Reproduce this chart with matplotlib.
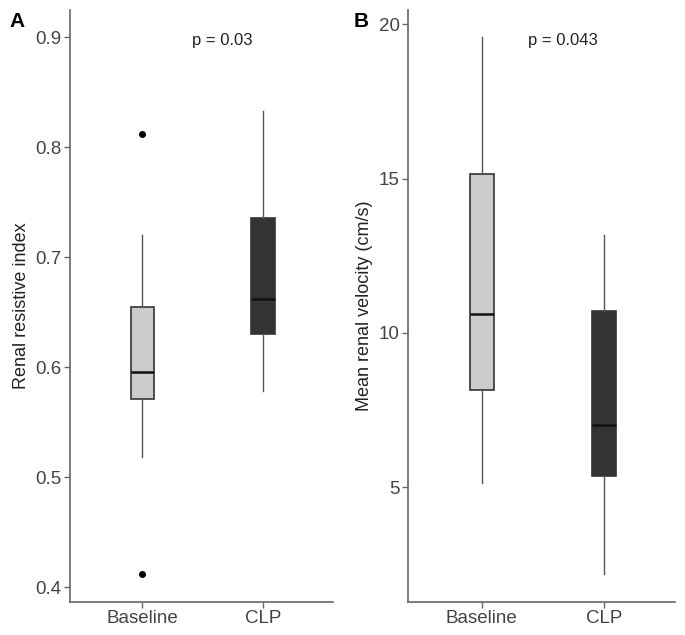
import matplotlib.pyplot as plt

plt.rcParams['font.family'] = ['Liberation Sans', 'DejaVu Sans']

groups = ['Baseline', 'CLP']
fills = ['#cccccc', '#333333']

# panel A: renal resistive index (whislo, q1, med, q3, whishi)
ri_lo = [0.519, 0.579]
ri_q1 = [0.571, 0.630]
ri_med = [0.596, 0.662]
ri_q3 = [0.655, 0.736]
ri_hi = [0.720, 0.833]
ri_out = [[0.812, 0.412], []]

# panel B: mean renal velocity (cm/s)
vel_lo = [5.15, 2.19]
vel_q1 = [8.15, 5.37]
vel_med = [10.6, 7.01]
vel_q3 = [15.15, 10.71]
vel_hi = [19.58, 13.18]
vel_out = [[], []]


def make_stats(lo, q1, med, q3, hi, out):
    stats = []
    for i, g in enumerate(groups):
        stats.append({'label': g, 'whislo': lo[i], 'q1': q1[i], 'med': med[i],
                      'q3': q3[i], 'whishi': hi[i], 'fliers': out[i]})
    return stats


def draw_panel(ax, stats, ylim, yticks, yticklabels, ylabel, ptext):
    bp = ax.bxp(stats, positions=[1, 2], widths=0.195, patch_artist=True,
                showcaps=False,
                boxprops=dict(edgecolor='#333333', linewidth=1.2),
                medianprops=dict(color='#111111', linewidth=1.8),
                whiskerprops=dict(color='#555555', linewidth=1.0),
                flierprops=dict(marker='o', markerfacecolor='black',
                                markeredgecolor='black', markersize=4))
    for patch, c in zip(bp['boxes'], fills):
        patch.set_facecolor(c)
    ax.set_xlim(0.4, 2.58)
    ax.set_ylim(*ylim)
    ax.set_yticks(yticks)
    ax.set_yticklabels(yticklabels)
    ax.set_xticks([1, 2])
    ax.set_xticklabels(groups)
    for s in ['top', 'right']:
        ax.spines[s].set_visible(False)
    for s in ['left', 'bottom']:
        ax.spines[s].set_color('#666666')
        ax.spines[s].set_linewidth(1.2)
    ax.tick_params(colors='#666666', labelcolor='#444444', labelsize=13.5,
                   length=4, width=1, pad=2)
    ax.set_ylabel(ylabel, fontsize=13, color='#222222', labelpad=4)
    ax.text(0.58, 0.949, ptext, transform=ax.transAxes, ha='center',
            va='center', fontsize=12, color='#222222')


fig = plt.figure(figsize=(6.85, 6.35), dpi=100)
axA = fig.add_axes([0.1022, 0.0524, 0.384, 0.932])
axB = fig.add_axes([0.596, 0.0524, 0.389, 0.932])

draw_panel(axA, make_stats(ri_lo, ri_q1, ri_med, ri_q3, ri_hi, ri_out),
           (0.387, 0.925), [0.4, 0.5, 0.6, 0.7, 0.8, 0.9],
           ['0.4', '0.5', '0.6', '0.7', '0.8', '0.9'],
           'Renal resistive index', 'p = 0.03')
draw_panel(axB, make_stats(vel_lo, vel_q1, vel_med, vel_q3, vel_hi, vel_out),
           (1.3, 20.46), [5, 10, 15, 20], ['5', '10', '15', '20'],
           'Mean renal velocity (cm/s)', 'p = 0.043')

fig.text(17.5 / 685, 1 - 21.5 / 635, 'A', fontsize=15, fontweight='bold',
         ha='center', va='center')
fig.text(361.5 / 685, 1 - 21.5 / 635, 'B', fontsize=15, fontweight='bold',
         ha='center', va='center')

fig.savefig('out.png', dpi=100)
